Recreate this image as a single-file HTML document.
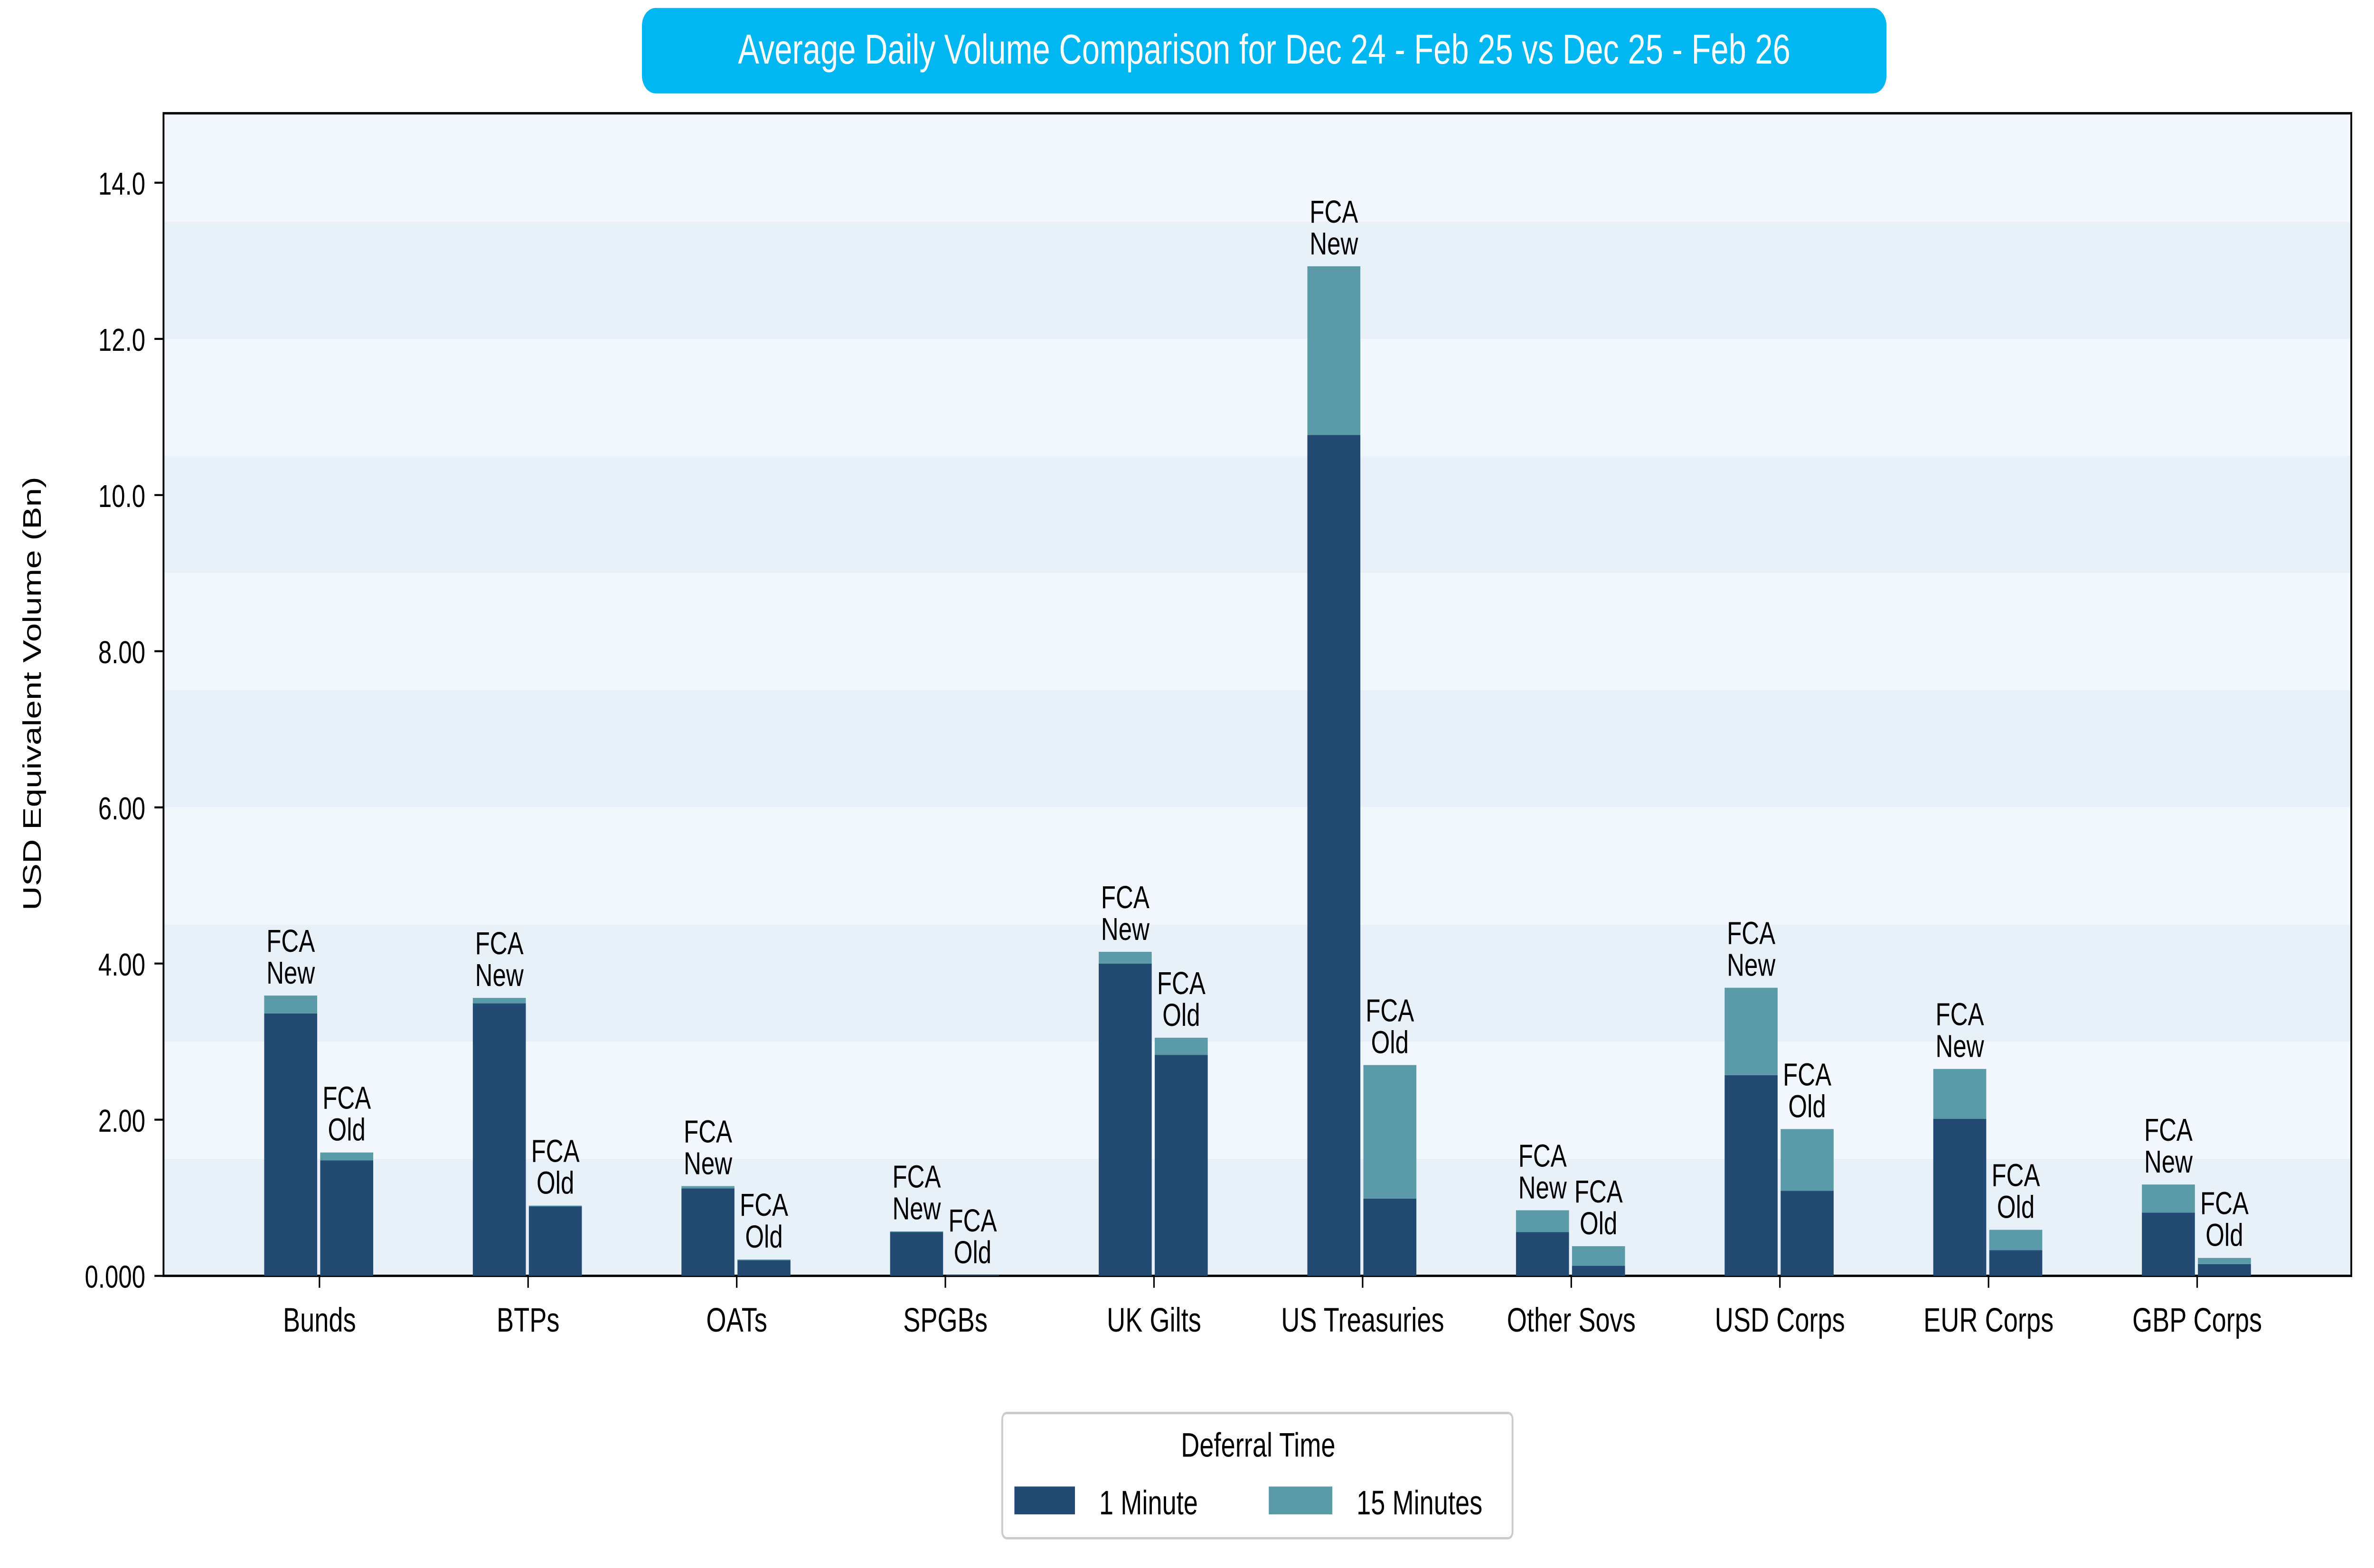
<!DOCTYPE html>
<html><head><meta charset="utf-8"><style>
html,body{margin:0;padding:0;background:#fff;width:100%;height:100%;overflow:hidden;}
svg{display:block;width:100vw;height:100vh;font-family:"Liberation Sans",sans-serif;}
</style></head><body>
<svg id="chart" viewBox="0 0 1568 789" preserveAspectRatio="none" xmlns="http://www.w3.org/2000/svg">
<g id="bands"></g>
<rect x="108" y="57" width="1445" height="585" fill="none" stroke="#000" stroke-width="1.2"/>
<g id="yaxis"></g>
<g id="bars"></g>
<g id="xaxis"></g>
<text transform="translate(27,349) rotate(-90)" text-anchor="middle" font-size="17">USD Equivalent Volume (Bn)</text>
<g>
<rect x="424" y="4" width="822" height="43" rx="9" fill="#00B6F0"/>
<text x="835" y="32" text-anchor="middle" font-size="21" fill="#fff">Average Daily Volume Comparison for Dec 24 - Feb 25 vs Dec 25 - Feb 26</text>
</g>
<g>
<rect x="662" y="711" width="337" height="63" rx="3" fill="#fff" stroke="#ccc" stroke-width="1.2"/>
<text x="831" y="733" text-anchor="middle" font-size="17">Deferral Time</text>
<rect x="670" y="748" width="40" height="14" fill="#234A72"/>
<text x="726" y="762" font-size="17">1 Minute</text>
<rect x="838" y="748" width="42" height="14" fill="#5B9BA8"/>
<text x="896" y="762" font-size="17">15 Minutes</text>
</g>
</svg>
<script>
const categories=["Bunds","BTPs","OATs","SPGBs","UK Gilts","US Treasuries","Other Sovs","USD Corps","EUR Corps","GBP Corps"];
const newOneMin=[3.36,3.49,1.12,0.56,4.00,10.77,0.56,2.57,2.01,0.81];
const newFifteen=[0.23,0.07,0.03,0.01,0.15,2.16,0.28,1.12,0.64,0.36];
const oldOneMin=[1.48,0.89,0.20,0.01,2.83,0.99,0.13,1.09,0.33,0.15];
const oldFifteen=[0.10,0.01,0.01,0.00,0.22,1.71,0.25,0.79,0.26,0.08];
const yTicks=[0,2,4,6,8,10,12,14];
const yTickLabels=["0.000","2.00","4.00","6.00","8.00","10.0","12.0","14.0"];
const NS="http://www.w3.org/2000/svg";
const y=v=>642-v*39.29;
const xc=i=>211+i*137.8;
function mk(t,a,p){const e=document.createElementNS(NS,t);for(const k in a)e.setAttribute(k,a[k]);p.appendChild(e);return e;}
const bands=document.getElementById('bands');
for(let b=0;b<10;b++){const top=Math.max(y((b+1)*1.5),57);
const r=mk('rect',{x:108,y:top,width:1445,height:y(b*1.5)-top,fill:b%2===0?'#E8F0FA':'#F2F7FD'},bands);

}
const ya=document.getElementById('yaxis');
yTicks.forEach((v,i)=>{
const l=mk('line',{x1:102,x2:108,y1:y(v),y2:y(v),stroke:'#000','stroke-width':1},ya);


const t=mk('text',{x:96,y:y(v)+6,'text-anchor':'end','font-size':16},ya);t.textContent=yTickLabels[i];

});
const bg=document.getElementById('bars'),xa=document.getElementById('xaxis');
function stack(cx,a,b,lab){
const r1=mk('rect',{x:cx-17.5,y:y(a),width:35,height:y(0)-y(a),fill:'#234A72'},bg);


const r2=mk('rect',{x:cx-17.5,y:y(a+b),width:35,height:y(a)-y(a+b),fill:'#5B9BA8'},bg);


const top=y(a+b);
const t1=mk('text',{x:cx,y:top-22,'text-anchor':'middle','font-size':16},bg);t1.textContent='FCA';


const t2=mk('text',{x:cx,y:top-6,'text-anchor':'middle','font-size':16},bg);t2.textContent=lab;

}
categories.forEach((c,i)=>{
stack(xc(i)-19,newOneMin[i],newFifteen[i],'New');
stack(xc(i)+18,oldOneMin[i],oldFifteen[i],'Old');
const l=mk('line',{x1:xc(i),x2:xc(i),y1:642,y2:648,stroke:'#000','stroke-width':1},xa);


const t=mk('text',{x:xc(i),y:670,'text-anchor':'middle','font-size':17},xa);t.textContent=c;

});
</script>
</body></html>
